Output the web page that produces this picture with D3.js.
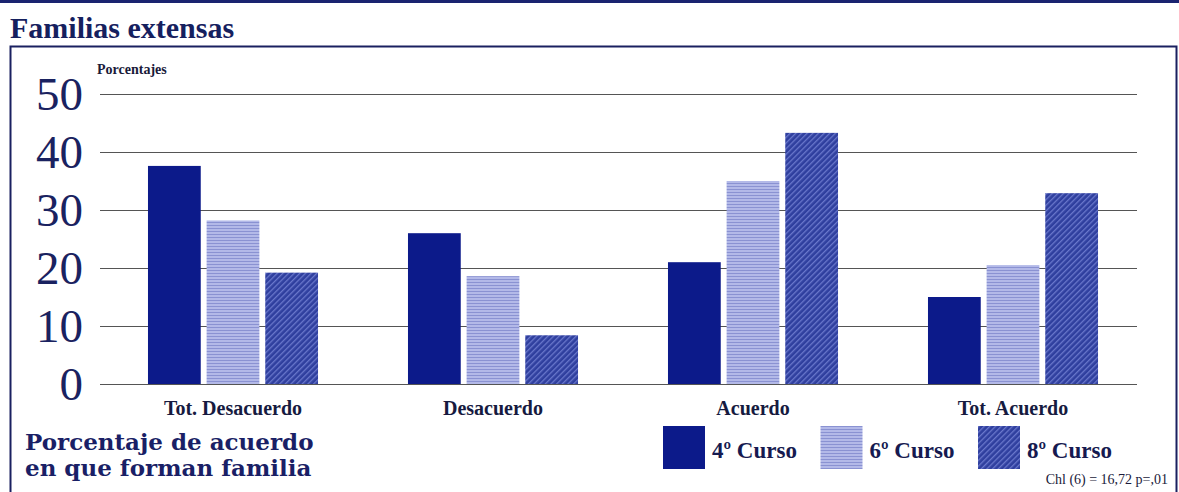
<!DOCTYPE html>
<html><head><meta charset="utf-8">
<script src="https://cdn.jsdelivr.net/npm/d3@7"></script>
<style>
html,body{margin:0;padding:0;background:#fff;}
svg{display:block;}
.tm{font-family:"Liberation Serif","Times New Roman",Times,"Nimbus Roman",serif;}
</style></head>
<body>
<svg id="c" width="1179" height="492"></svg>
<script>
const categories = ["Tot. Desacuerdo", "Desacuerdo", "Acuerdo", "Tot. Acuerdo"];
const series = ["4º Curso", "6º Curso", "8º Curso"];
const curso4 = [37.6, 26.0, 21.0, 15.0];
const curso6 = [28.2, 18.6, 35.0, 20.5];
const curso8 = [19.2, 8.4, 43.3, 32.9];
const yTicks = [0, 10, 20, 30, 40, 50];

const values = [curso4, curso6, curso8];
const svg = d3.select("#c");
const defs = svg.append("defs");

// patterns
const p6 = defs.append("pattern").attr("id","p6").attr("patternUnits","userSpaceOnUse").attr("width",4).attr("height",3);
p6.append("rect").attr("width",4).attr("height",3).attr("fill","#b3b9e8");
p6.append("rect").attr("y",0).attr("width",4).attr("height",1).attr("fill","#8a92d2");
const p8 = defs.append("pattern").attr("id","p8").attr("patternUnits","userSpaceOnUse").attr("width",4).attr("height",4).attr("patternTransform","rotate(45)");
p8.append("rect").attr("width",4).attr("height",4).attr("fill","#2f3f9e");
p8.append("rect").attr("x",0).attr("width",1.3).attr("height",4).attr("fill","#6a78cc");
const fills = ["#0c1a8a", "url(#p6)", "url(#p8)"];

// frame
svg.append("rect").attr("x",0).attr("y",0).attr("width",1179).attr("height",3).attr("fill","#1a2370");
svg.append("path").attr("d","M10.5,492 V46.5 H1176.5 V492").attr("fill","none").attr("stroke","#1a2060").attr("stroke-width",2);

svg.append("text").attr("class","tm").attr("x",10).attr("y",38).text("Familias extensas")
  .attr("font-weight","bold").attr("font-size",30).attr("fill","#15205e");

const y = d3.scaleLinear().domain([0,50]).range([384,94]);
const x0 = d3.scaleBand().domain(categories).range([103,1143]).paddingInner(0.346).paddingOuter(0.173);
const x1 = d3.scaleBand().domain(series).range([0, x0.bandwidth()]).paddingInner(0.1);

// grid
const ga = svg.append("g").attr("transform","translate(1137,0)").call(d3.axisRight(y).tickValues(yTicks).tickSize(-1037).tickFormat(""));
ga.select(".domain").remove();
ga.selectAll(".tick line").attr("stroke","#555").attr("stroke-width",1.2);

// y labels
svg.append("g").selectAll("text").data(yTicks).join("text").attr("class","tm")
  .attr("x",83).attr("y",d=>y(d)+16).attr("text-anchor","end")
  .attr("font-size",47).attr("fill","#1a2260")
  .text(d=>d);

svg.append("text").attr("class","tm").attr("x",97).attr("y",74).text("Porcentajes")
  .attr("font-weight","bold").attr("font-size",14).attr("fill","#1a1a3a");

// bars
const groups = svg.append("g").selectAll("g").data(categories).join("g")
  .attr("transform", c => `translate(${x0(c)},0)`);
groups.selectAll("rect").data((c,i) => series.map((s,j)=>({s, j, v: values[j][i]}))).join("rect")
  .attr("x", d => x1(d.s)).attr("width", x1.bandwidth())
  .attr("y", d => y(d.v)).attr("height", d => y(0)-y(d.v))
  .attr("fill", d => fills[d.j]);

// category labels
const xAxis = svg.append("g").attr("transform","translate(0,384)").call(d3.axisBottom(x0).tickSize(0).tickPadding(0));
xAxis.select(".domain").remove();
xAxis.selectAll("text").attr("class","tm").attr("y",31).attr("dy",0).attr("font-family",null)
  .attr("font-weight","bold").attr("font-size",20).attr("fill","#161a40");

// subtitle
svg.append("text").attr("x",25).attr("y",450).text("Porcentaje de acuerdo")
  .attr("font-family","DejaVu Serif").attr("font-weight","bold").attr("font-size",23).attr("fill","#1a1f66");
svg.append("text").attr("x",25).attr("y",476).text("en que forman familia")
  .attr("font-family","DejaVu Serif").attr("font-weight","bold").attr("font-size",23).attr("fill","#1a1f66");

// legend
const legX = d3.scalePoint().domain(series).range([663, 978]);
const lg = svg.append("g").selectAll("g").data(series).join("g")
  .attr("transform", s => `translate(${legX(s)},426)`);
lg.append("rect").attr("width",42).attr("height",43).attr("fill",(s,i)=>fills[i]);
lg.append("text").attr("class","tm").attr("x",49).attr("y",32).text(s=>s)
  .attr("font-weight","bold").attr("font-size",23).attr("fill","#161a50");

svg.append("text").attr("class","tm").attr("x",1168).attr("y",484).attr("text-anchor","end").text("Chl (6) = 16,72 p=,01")
  .attr("font-size",14).attr("fill","#1a1a3a");
</script>
</body></html>
